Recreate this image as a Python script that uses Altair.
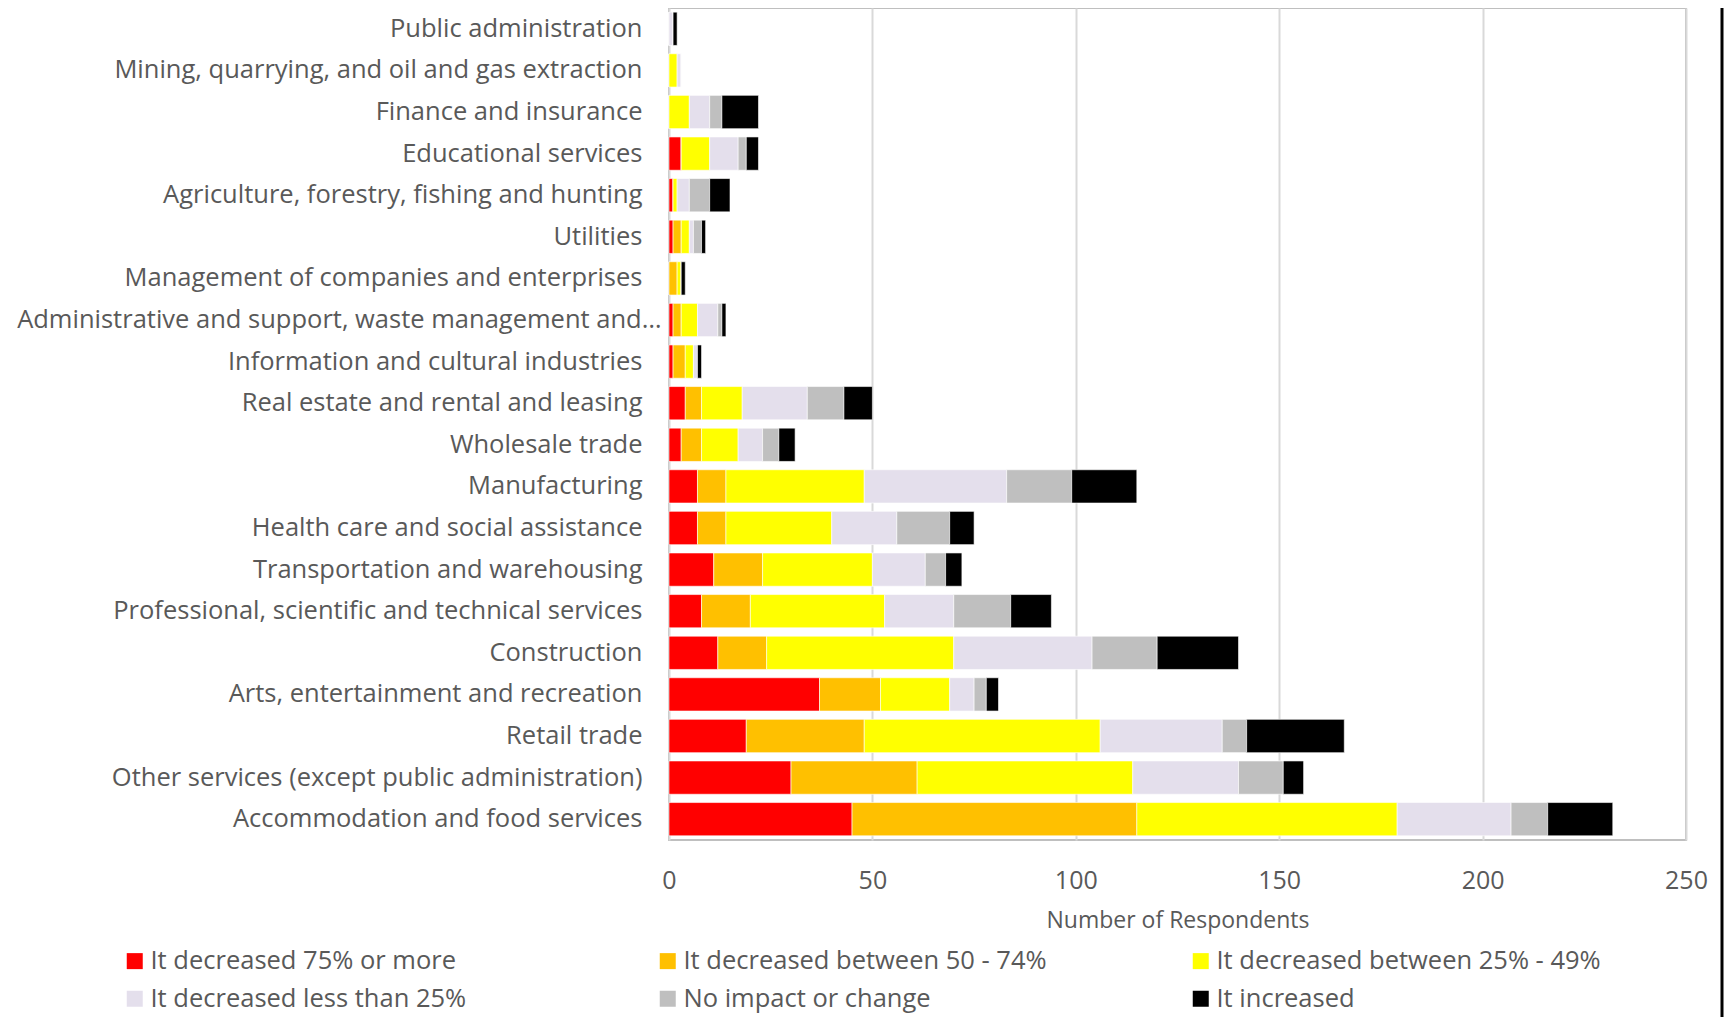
import altair as alt
import pandas as pd

categories = [
    "Public administration",
    "Mining, quarrying, and oil and gas extraction",
    "Finance and insurance",
    "Educational services",
    "Agriculture, forestry, fishing and hunting",
    "Utilities",
    "Management of companies and enterprises",
    "Administrative and support, waste management and…",
    "Information and cultural industries",
    "Real estate and rental and leasing",
    "Wholesale trade",
    "Manufacturing",
    "Health care and social assistance",
    "Transportation and warehousing",
    "Professional, scientific and technical services",
    "Construction",
    "Arts, entertainment and recreation",
    "Retail trade",
    "Other services (except public administration)",
    "Accommodation and food services",
]

series_names = [
    "It decreased 75% or more",
    "It decreased between 50 - 74%",
    "It decreased between 25% - 49%",
    "It decreased less than 25%",
    "No impact or change",
    "It increased",
]

dec_75_more = [0, 0, 0, 3, 1, 1, 0, 1, 1, 4, 3, 7, 7, 11, 8, 12, 37, 19, 30, 45]
dec_50_74 = [0, 0, 0, 0, 0, 2, 2, 2, 3, 4, 5, 7, 7, 12, 12, 12, 15, 29, 31, 70]
dec_25_49 = [0, 2, 5, 7, 1, 2, 1, 4, 2, 10, 9, 34, 26, 27, 33, 46, 17, 58, 53, 64]
dec_lt_25 = [1, 1, 5, 7, 3, 1, 0, 5, 1, 16, 6, 35, 16, 13, 17, 34, 6, 30, 26, 28]
no_impact = [0, 0, 3, 2, 5, 2, 0, 1, 0, 9, 4, 16, 13, 5, 14, 16, 3, 6, 11, 9]
increased = [1, 0, 9, 3, 5, 1, 1, 1, 1, 7, 4, 16, 6, 4, 10, 20, 3, 24, 5, 16]

colors = ["#FF0000", "#FFC000", "#FFFF00", "#E4DFEC", "#BFBFBF", "#000000"]

series_values = [dec_75_more, dec_50_74, dec_25_49, dec_lt_25, no_impact, increased]
rows = []
for s_idx, (name, vals) in enumerate(zip(series_names, series_values)):
    for cat, v in zip(categories, vals):
        rows.append({"Industry": cat, "Impact": name, "order": s_idx, "Respondents": v})
df = pd.DataFrame(rows)

# legend fills column by column: reorder so it reads row by row (3 per row)
legend_order = [0, 3, 1, 4, 2, 5]
legend_domain = [series_names[i] for i in legend_order]
legend_range = [colors[i] for i in legend_order]

FONT = "Open Sans"
TXT = "#595959"

bars = alt.Chart(df).mark_bar(stroke="white", strokeWidth=0.6).encode(
    y=alt.Y(
        "Industry:N",
        sort=categories,
        title=None,
        scale=alt.Scale(paddingInner=0.2, paddingOuter=0.1),
        axis=alt.Axis(
            labelFont=FONT,
            labelFontSize=25.5,
            labelColor=TXT,
            labelLimit=800,
            labelPadding={
                "condition": {"test": "indexof(datum.value, 'Administrative') == 0", "value": 8},
                "value": 27,
            },
            ticks=False,
            domain=False,
            grid=False,
        ),
    ),
    x=alt.X(
        "Respondents:Q",
        stack="zero",
        title="Number of Respondents",
        scale=alt.Scale(domain=[0, 250], nice=False),
        axis=alt.Axis(
            values=[0, 50, 100, 150, 200, 250],
            labelFont=FONT,
            labelFontSize=25,
            labelColor=TXT,
            labelPadding=28,
            labelFlush=False,
            ticks=False,
            domain=False,
            grid=True,
            gridColor="#D9D9D9",
            gridWidth=2,
            titleFont=FONT,
            titleFontSize=23,
            titleFontWeight="normal",
            titleColor=TXT,
            titlePadding=16,
        ),
    ),
    color=alt.Color(
        "Impact:N",
        scale=alt.Scale(domain=legend_domain, range=legend_range),
        legend=alt.Legend(
            title=None,
            orient="none",
            legendX=-547,
            legendY=940,
            columns=3,
            gridAlign="all",
            columnPadding=120,
            rowPadding=11,
            symbolType="square",
            symbolSize=256,
            symbolStrokeWidth=0,
            labelFont=FONT,
            labelFontSize=25.5,
            labelColor=TXT,
            labelOffset=3,
            labelLimit=600,
        ),
    ),
    order=alt.Order("order:Q", sort="ascending"),
)

edge = alt.Chart(pd.DataFrame({"e": [0]})).mark_rule(color="black", strokeWidth=3).encode(
    x=alt.value(1053), y=alt.value(-10), y2=alt.value(1010)
)

chart = (
    alt.layer(bars, edge)
    .properties(
        width=1017,
        height=832,
        autosize=alt.AutoSizeParams(type="none"),
        padding={"left": 661, "top": 0, "right": 40, "bottom": 177},
    )
    .configure_view(stroke="#BFBFBF", strokeWidth=2)
)

chart.save("out.html", embed_options={"renderer": "svg", "actions": False})
